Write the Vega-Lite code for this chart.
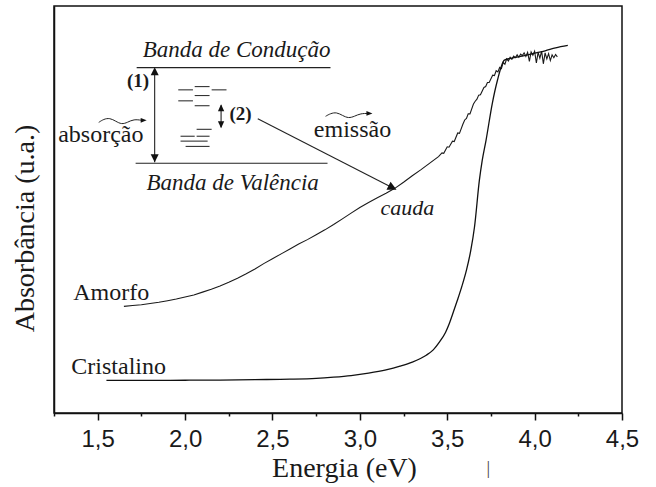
{
  "$schema": "https://vega.github.io/schema/vega-lite/v6.json",
  "width": 568,
  "height": 407,
  "autosize": {"type": "none"},
  "padding": {"left": 54, "top": 6, "right": 34, "bottom": 74},
  "background": "white",
  "config": {
    "view": {"stroke": "#111", "strokeWidth": 1.5},
    "text": {"font": "Liberation Serif", "color": "#1a1a1a"}
  },
  "datasets": {
    "amorfo": [
      {"x": 1.65, "y": 26.2}, {"x": 1.70, "y": 26.4}, {"x": 1.75, "y": 26.6}, {"x": 1.80, "y": 26.9},
      {"x": 1.85, "y": 27.2}, {"x": 1.90, "y": 27.6}, {"x": 1.95, "y": 28.0}, {"x": 2.00, "y": 28.5},
      {"x": 2.05, "y": 29.0}, {"x": 2.10, "y": 29.7}, {"x": 2.15, "y": 30.4}, {"x": 2.20, "y": 31.2},
      {"x": 2.25, "y": 32.1}, {"x": 2.30, "y": 33.1}, {"x": 2.35, "y": 34.2}, {"x": 2.40, "y": 35.4},
      {"x": 2.45, "y": 36.7}, {"x": 2.50, "y": 37.9}, {"x": 2.55, "y": 39.1}, {"x": 2.60, "y": 40.3},
      {"x": 2.65, "y": 41.5}, {"x": 2.70, "y": 42.6}, {"x": 2.75, "y": 43.8}, {"x": 2.80, "y": 45.0},
      {"x": 2.85, "y": 46.3}, {"x": 2.90, "y": 47.7}, {"x": 2.95, "y": 49.1}, {"x": 3.00, "y": 50.5},
      {"x": 3.05, "y": 51.7}, {"x": 3.10, "y": 52.9}, {"x": 3.15, "y": 54.0}, {"x": 3.20, "y": 55.2},
      {"x": 3.25, "y": 56.7}, {"x": 3.30, "y": 58.3}, {"x": 3.35, "y": 59.8}, {"x": 3.40, "y": 61.4},
      {"x": 3.45, "y": 63.0}, {"x": 3.47, "y": 63.9}, {"x": 3.48, "y": 63.8}, {"x": 3.50, "y": 65.4},
      {"x": 3.51, "y": 65.3}, {"x": 3.53, "y": 66.8}, {"x": 3.54, "y": 66.7}, {"x": 3.56, "y": 68.8},
      {"x": 3.57, "y": 68.7}, {"x": 3.59, "y": 71.0}, {"x": 3.60, "y": 72.0}, {"x": 3.61, "y": 72.4},
      {"x": 3.62, "y": 73.5}, {"x": 3.63, "y": 73.5}, {"x": 3.65, "y": 75.9}, {"x": 3.66, "y": 76.6},
      {"x": 3.67, "y": 77.1}, {"x": 3.68, "y": 78.1}, {"x": 3.69, "y": 78.2}, {"x": 3.71, "y": 80.0},
      {"x": 3.72, "y": 80.2}, {"x": 3.73, "y": 81.2}, {"x": 3.74, "y": 81.2}, {"x": 3.76, "y": 83.0},
      {"x": 3.77, "y": 82.9}, {"x": 3.78, "y": 84.1}, {"x": 3.79, "y": 83.8}, {"x": 3.80, "y": 84.9},
      {"x": 3.81, "y": 84.6}, {"x": 3.82, "y": 86.1}, {"x": 3.83, "y": 85.7}, {"x": 3.84, "y": 87.0},
      {"x": 3.85, "y": 86.5}, {"x": 3.86, "y": 87.4}, {"x": 3.87, "y": 86.9}, {"x": 3.88, "y": 87.7},
      {"x": 3.89, "y": 87.3}, {"x": 3.90, "y": 88.0}, {"x": 3.91, "y": 87.4}, {"x": 3.92, "y": 88.2},
      {"x": 3.93, "y": 87.8}, {"x": 3.94, "y": 88.5}, {"x": 3.95, "y": 87.6}, {"x": 3.96, "y": 88.6},
      {"x": 3.97, "y": 86.4}, {"x": 3.98, "y": 88.7}, {"x": 3.99, "y": 87.9}, {"x": 4.00, "y": 88.9},
      {"x": 4.01, "y": 86.0}, {"x": 4.02, "y": 88.6}, {"x": 4.03, "y": 87.2}, {"x": 4.04, "y": 88.9},
      {"x": 4.05, "y": 85.8}, {"x": 4.06, "y": 88.5}, {"x": 4.07, "y": 87.0}, {"x": 4.08, "y": 88.3},
      {"x": 4.09, "y": 86.6}, {"x": 4.10, "y": 88.0}, {"x": 4.11, "y": 87.3}, {"x": 4.12, "y": 88.1},
      {"x": 4.13, "y": 87.5}
    ],
    "cristalino": [
      {"x": 1.55, "y": 8.0}, {"x": 1.80, "y": 8.0}, {"x": 2.00, "y": 8.05}, {"x": 2.20, "y": 8.1},
      {"x": 2.40, "y": 8.2}, {"x": 2.60, "y": 8.3}, {"x": 2.75, "y": 8.5}, {"x": 2.85, "y": 8.8},
      {"x": 2.95, "y": 9.2}, {"x": 3.05, "y": 9.8}, {"x": 3.15, "y": 10.6}, {"x": 3.23, "y": 11.5},
      {"x": 3.30, "y": 12.5}, {"x": 3.38, "y": 14.2}, {"x": 3.42, "y": 15.5}, {"x": 3.455, "y": 17.4},
      {"x": 3.49, "y": 19.8}, {"x": 3.512, "y": 22.0}, {"x": 3.535, "y": 24.8}, {"x": 3.558, "y": 27.7},
      {"x": 3.585, "y": 31.3}, {"x": 3.61, "y": 35.1}, {"x": 3.635, "y": 40.0}, {"x": 3.656, "y": 45.7},
      {"x": 3.684, "y": 57.2}, {"x": 3.70, "y": 62.0}, {"x": 3.722, "y": 67.0}, {"x": 3.758, "y": 76.1},
      {"x": 3.787, "y": 81.7}, {"x": 3.827, "y": 86.7}, {"x": 3.87, "y": 87.2}, {"x": 3.92, "y": 87.6},
      {"x": 4.00, "y": 88.4}, {"x": 4.06, "y": 89.0}, {"x": 4.12, "y": 89.7}, {"x": 4.19, "y": 90.3}
    ],
    "segs": [
      {"x": 1.723, "y": 84.86, "x2": 2.832, "y2": 84.86},
      {"x": 1.717, "y": 61.35, "x2": 2.815, "y2": 61.35},
      {"x": 1.826, "y": 84.5, "x2": 1.826, "y2": 61.6},
      {"x": 2.206, "y": 75.6, "x2": 2.206, "y2": 70.2},
      {"x": 2.416, "y": 72.3, "x2": 3.187, "y2": 55.33}
    ],
    "levels": [
      {"x": 2.055, "x2": 2.140, "y": 80.2},
      {"x": 1.961, "x2": 2.045, "y": 79.4},
      {"x": 2.152, "x2": 2.237, "y": 79.4},
      {"x": 2.055, "x2": 2.140, "y": 78.0},
      {"x": 1.961, "x2": 2.045, "y": 76.7},
      {"x": 2.055, "x2": 2.140, "y": 75.5},
      {"x": 2.066, "x2": 2.152, "y": 69.7},
      {"x": 1.974, "x2": 2.055, "y": 68.0},
      {"x": 2.066, "x2": 2.140, "y": 68.0},
      {"x": 1.974, "x2": 2.129, "y": 66.8},
      {"x": 2.003, "x2": 2.140, "y": 65.5}
    ],
    "waves": [
      {"w": "abs", "x": 1.506, "y": 71.4}, {"w": "abs", "x": 1.534, "y": 72.2}, {"w": "abs", "x": 1.569, "y": 72.5},
      {"w": "abs", "x": 1.603, "y": 71.7}, {"w": "abs", "x": 1.637, "y": 70.9}, {"w": "abs", "x": 1.671, "y": 71.4},
      {"w": "abs", "x": 1.706, "y": 72.2}, {"w": "abs", "x": 1.755, "y": 71.9},
      {"w": "emi", "x": 2.804, "y": 72.9}, {"w": "emi", "x": 2.832, "y": 73.6}, {"w": "emi", "x": 2.867, "y": 73.9},
      {"w": "emi", "x": 2.901, "y": 73.1}, {"w": "emi", "x": 2.935, "y": 72.4}, {"w": "emi", "x": 2.970, "y": 72.9},
      {"w": "emi", "x": 3.004, "y": 73.6}, {"w": "emi", "x": 3.050, "y": 73.6}
    ],
    "heads": [
      {"d": "up", "x": 1.826, "y": 83.95},
      {"d": "down", "x": 1.826, "y": 62.6},
      {"d": "up2", "x": 2.206, "y": 75.0},
      {"d": "down2", "x": 2.206, "y": 70.8},
      {"d": "diag", "x": 3.187, "y": 55.33},
      {"d": "right", "x": 1.763, "y": 71.9},
      {"d": "right", "x": 3.055, "y": 73.6}
    ],
    "texts": [
      {"k": "it", "t": "Banda de Condução", "x": 2.295, "y": 87.4},
      {"k": "it", "t": "Banda de Valência", "x": 2.272, "y": 54.7},
      {"k": "it2", "t": "cauda", "x": 3.272, "y": 48.6},
      {"k": "b", "t": "(1)", "x": 1.731, "y": 80.0},
      {"k": "b", "t": "(2)", "x": 2.317, "y": 71.9},
      {"k": "n", "t": "absorção", "x": 1.518, "y": 66.5},
      {"k": "n", "t": "emissão", "x": 2.958, "y": 67.7},
      {"k": "n", "t": "Amorfo", "x": 1.577, "y": 27.7},
      {"k": "n", "t": "Cristalino", "x": 1.620, "y": 9.6},
      {"k": "m", "t": "|", "x": 3.735, "y": -15.0}
    ]
  },
  "encoding": {
    "x": {
      "field": "x", "type": "quantitative",
      "scale": {"domain": [1.25, 4.5], "nice": false, "zero": false},
      "axis": {
        "values": [1.25, 1.5, 1.75, 2.0, 2.25, 2.5, 2.75, 3.0, 3.25, 3.5, 3.75, 4.0, 4.25, 4.5],
        "labelExpr": "datum.value % 0.5 == 0 ? replace(format(datum.value, '.1f'), '.', ',') : ''",
        "grid": false,
        "domainColor": "#111", "domainWidth": 1.5,
        "tickColor": "#111", "tickWidth": 1.5,
        "tickSize": {"condition": {"test": "datum.value % 0.5 == 0", "value": 7}, "value": 3},
        "labelFont": "Liberation Sans", "labelFontSize": 24, "labelColor": "#1a1a1a",
        "labelPadding": 7, "labelFlush": false, "labelOverlap": false,
        "title": "Energia (eV)", "titleFont": "Liberation Serif", "titleFontSize": 28,
        "titleFontWeight": "normal", "titleColor": "#1a1a1a",
        "titleBaseline": "alphabetic", "titleX": 290, "titleY": 63
      }
    },
    "y": {
      "field": "y", "type": "quantitative",
      "scale": {"domain": [0, 100], "nice": false, "zero": false},
      "axis": {
        "ticks": false, "labels": false, "grid": false,
        "domainColor": "#111", "domainWidth": 1.5,
        "title": "Absorbância (u.a.)", "titleFont": "Liberation Serif", "titleFontSize": 28,
        "titleFontWeight": "normal", "titleColor": "#1a1a1a",
        "titleAngle": -90, "titleBaseline": "alphabetic", "titleAlign": "center",
        "titleX": -21, "titleY": 222
      }
    }
  },
  "layer": [
    {"data": {"name": "segs"}, "mark": {"type": "rule", "color": "#222", "strokeWidth": 1.1},
     "encoding": {"x2": {"field": "x2"}, "y2": {"field": "y2"}}},
    {"data": {"name": "levels"}, "mark": {"type": "rule", "color": "#333", "strokeWidth": 1.1},
     "encoding": {"x2": {"field": "x2"}}},
    {"data": {"name": "amorfo"}, "mark": {"type": "line", "color": "#1a1a1a", "strokeWidth": 1.1}, "encoding": {}},
    {"data": {"name": "cristalino"}, "mark": {"type": "line", "color": "#111", "strokeWidth": 1.3, "interpolate": "monotone"}, "encoding": {}},
    {"data": {"name": "waves"}, "mark": {"type": "line", "color": "#222", "strokeWidth": 1, "interpolate": "basis"},
     "encoding": {"detail": {"field": "w"}}},
    {"data": {"name": "heads"}, "transform": [{"filter": "datum.d == 'up'"}],
     "mark": {"type": "point", "shape": "M0,-1L-1,1L1,1Z", "size": 64, "filled": true, "color": "#111", "opacity": 1}},
    {"data": {"name": "heads"}, "transform": [{"filter": "datum.d == 'down'"}],
     "mark": {"type": "point", "shape": "M0,1L-1,-1L1,-1Z", "size": 64, "filled": true, "color": "#111", "opacity": 1}},
    {"data": {"name": "heads"}, "transform": [{"filter": "datum.d == 'up2'"}],
     "mark": {"type": "point", "shape": "M0,-1L-0.9,1L0.9,1Z", "size": 49, "filled": true, "color": "#111", "opacity": 1}},
    {"data": {"name": "heads"}, "transform": [{"filter": "datum.d == 'down2'"}],
     "mark": {"type": "point", "shape": "M0,1L-0.9,-1L0.9,-1Z", "size": 49, "filled": true, "color": "#111", "opacity": 1}},
    {"data": {"name": "heads"}, "transform": [{"filter": "datum.d == 'diag'"}],
     "mark": {"type": "point", "shape": "M1,0L-1,-1L-1,1Z", "size": 81, "angle": 27, "filled": true, "color": "#111", "opacity": 1}},
    {"data": {"name": "heads"}, "transform": [{"filter": "datum.d == 'right'"}],
     "mark": {"type": "point", "shape": "M1,0L-1,-0.8L-1,0.8Z", "size": 36, "filled": true, "color": "#111", "opacity": 1}},
    {"data": {"name": "texts"}, "transform": [{"filter": "datum.k == 'it'"}],
     "mark": {"type": "text", "font": "Liberation Serif", "fontSize": 23, "fontStyle": "italic", "align": "center", "baseline": "alphabetic"},
     "encoding": {"text": {"field": "t"}}},
    {"data": {"name": "texts"}, "transform": [{"filter": "datum.k == 'it2'"}],
     "mark": {"type": "text", "font": "Liberation Serif", "fontSize": 22, "fontStyle": "italic", "align": "center", "baseline": "alphabetic"},
     "encoding": {"text": {"field": "t"}}},
    {"data": {"name": "texts"}, "transform": [{"filter": "datum.k == 'b'"}],
     "mark": {"type": "text", "font": "Liberation Serif", "fontSize": 19, "fontWeight": "bold", "align": "center", "baseline": "alphabetic"},
     "encoding": {"text": {"field": "t"}}},
    {"data": {"name": "texts"}, "transform": [{"filter": "datum.k == 'n'"}],
     "mark": {"type": "text", "font": "Liberation Serif", "fontSize": 24, "align": "center", "baseline": "alphabetic"},
     "encoding": {"text": {"field": "t"}}},
    {"data": {"name": "texts"}, "transform": [{"filter": "datum.k == 'm'"}],
     "mark": {"type": "text", "font": "Liberation Serif", "fontSize": 18, "align": "center", "baseline": "alphabetic", "color": "#444"},
     "encoding": {"text": {"field": "t"}}}
  ]
}
